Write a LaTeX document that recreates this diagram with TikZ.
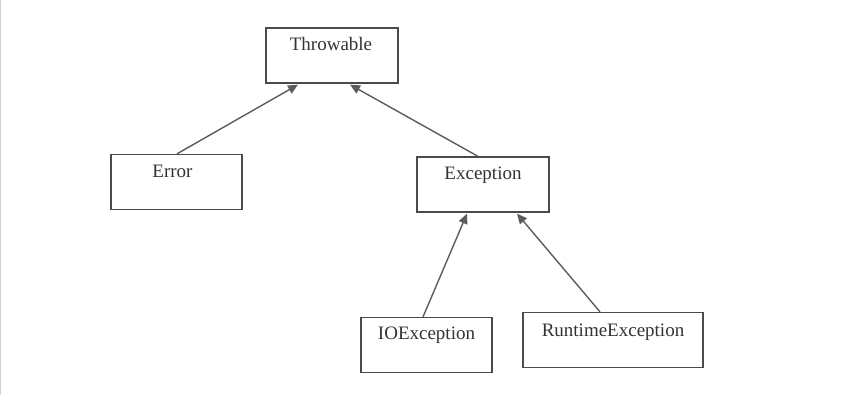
\documentclass[tikz,border=0pt]{standalone}
\usepackage{fontspec}
\setmainfont{Liberation Serif}
\usetikzlibrary{arrows.meta}
\definecolor{edge}{HTML}{4A4A4A}
\definecolor{ink}{HTML}{333333}
\begin{document}
\begin{tikzpicture}[x=1pt,y=-1pt,
  box/.style={draw=edge,line width=1.3pt,rectangle,inner sep=0pt,minimum width=132pt,minimum height=55pt},
  lbl/.style={text=ink,font=\fontsize{19}{22}\selectfont,inner sep=0pt},
  inh/.style={draw=edge!90,line width=1.4pt,-{Triangle[length=10pt,width=9pt]}}]
\useasboundingbox (0,0) rectangle (864,402);
\fill[white] (0,0) rectangle (864,402);
\draw[gray!35,line width=1pt] (0.5,0) -- (0.5,395);
% boxes
\node[box] (thr) at (332,55.5) {};
\node[box,minimum width=131pt] (err) at (176.5,182) {};
\node[box] (exc) at (483,184.5) {};
\node[box,minimum width=131pt] (ioe) at (426.5,345) {};
\node[box,minimum width=180pt] (rte) at (613,340) {};
% labels
\node[lbl] (thrl) at ([xshift=-1,yshift=-17]thr.north) {Throwable};
\node[lbl] (errl) at ([xshift=-4,yshift=-18]err.north) {Error};
\node[lbl] (excl) at ([yshift=-19]exc.north) {Exception};
\node[lbl] (ioel) at ([yshift=-18]ioe.north) {IOException};
\node[lbl] (rtel) at ([yshift=-20]rte.north) {RuntimeException};
% connectors
\draw[inh] ([xshift=0.5]err.north) -- ([xshift=-34,yshift=-1]thr.south);
\draw[inh] ([xshift=-5]exc.north) -- ([xshift=18,yshift=-1]thr.south);
\draw[inh] ([xshift=-3.5]ioe.north) -- ([xshift=-16,yshift=-1]exc.south);
\draw[inh] ([xshift=-13]rte.north) -- ([xshift=34,yshift=-1]exc.south);
\end{tikzpicture}
\end{document}
